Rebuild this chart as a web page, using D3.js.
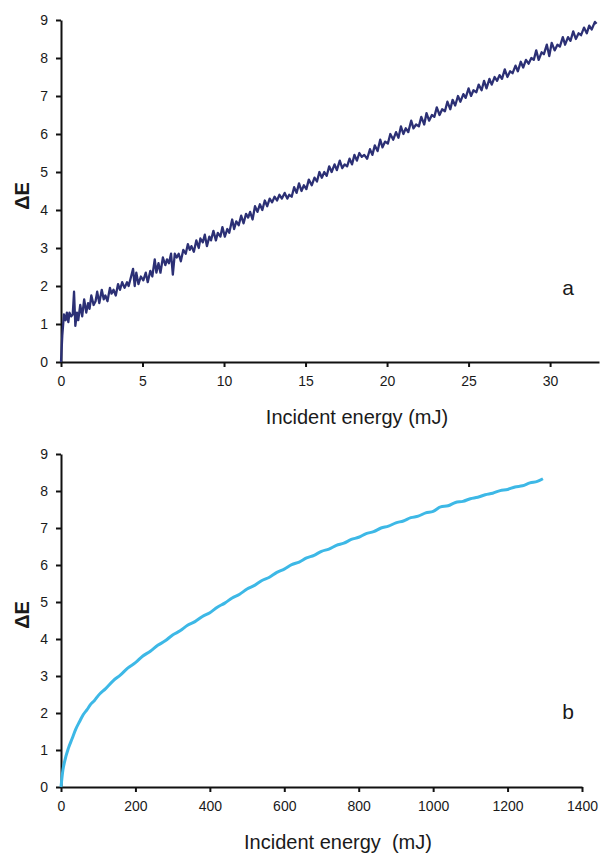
<!DOCTYPE html>
<html>
<head>
<meta charset="utf-8">
<script src="https://cdn.jsdelivr.net/npm/d3@7"></script>
<style>
  body { margin: 0; background: #fff; }
  text { font-family: "Liberation Sans", Arial, sans-serif; fill: #1a1a1a; }
  .domain { stroke: #111; stroke-width: 2px; }
  .tick line { stroke: #111; stroke-width: 2px; }
</style>
</head>
<body>
<svg id="chart"></svg>
<script>
var w = 601, h = 857;

// panel a : [incident energy (mJ), delta E]
var pointsA = [[0,0],[0.08,0.7],[0.18,1.25],[0.28,1.1],[0.36,1.3],[0.45,1.05],[0.52,1.3],[0.62,1.2],[0.72,1.25],[0.8,1.85],[0.88,0.95],[0.98,1.3],[1.06,1.1],[1.18,1.5],[1.3,1.2],[1.42,1.65],[1.55,1.3],[1.66,1.55],[1.75,1.4],[1.86,1.75],[2.0,1.5],[2.12,1.6],[2.22,1.85],[2.35,1.55],[2.5,1.9],[2.62,1.65],[2.72,1.75],[2.85,1.6],[3.0,1.95],[3.1,1.8],[3.22,1.9],[3.36,1.75],[3.5,2.05],[3.62,1.9],[3.75,2.1],[3.9,1.95],[4.05,2.1],[4.15,2.0],[4.3,2.25],[4.42,2.45],[4.52,2.0],[4.62,2.35],[4.75,2.05],[4.9,2.25],[5.05,2.15],[5.2,2.35],[5.32,2.1],[5.48,2.4],[5.6,2.25],[5.75,2.7],[5.85,2.35],[5.98,2.6],[6.1,2.35],[6.25,2.75],[6.4,2.55],[6.5,2.7],[6.62,2.6],[6.75,2.85],[6.86,2.3],[6.98,2.85],[7.1,2.75],[7.22,2.85],[7.35,2.65],[7.5,2.95],[7.65,2.85],[7.78,3.1],[7.9,2.95],[8.0,3.05],[8.15,2.9],[8.3,3.2],[8.45,3.0],[8.55,3.25],[8.7,3.15],[8.82,3.35],[8.95,3.05],[9.1,3.3],[9.2,3.2],[9.35,3.45],[9.5,3.2],[9.62,3.4],[9.78,3.3],[9.9,3.55],[10.05,3.3],[10.2,3.5],[10.32,3.4],[10.5,3.75],[10.62,3.5],[10.75,3.7],[10.9,3.6],[11.05,3.85],[11.2,3.65],[11.35,3.9],[11.48,3.8],[11.6,3.95],[11.75,3.75],[11.9,4.1],[12.05,3.95],[12.2,4.15],[12.35,4.0],[12.5,4.25],[12.65,4.1],[12.8,4.3],[12.95,4.2],[13.1,4.35],[13.25,4.25],[13.4,4.4],[13.55,4.3],[13.72,4.45],[13.88,4.3],[14.0,4.4],[14.15,4.35],[14.3,4.6],[14.45,4.45],[14.6,4.7],[14.75,4.5],[14.9,4.65],[15.05,4.55],[15.2,4.8],[15.38,4.65],[15.55,4.85],[15.7,4.75],[15.85,5.0],[16.0,4.85],[16.15,5.0],[16.3,4.9],[16.45,5.15],[16.6,5.0],[16.78,5.2],[16.92,5.05],[17.1,5.3],[17.25,5.1],[17.4,5.2],[17.55,5.15],[17.7,5.35],[17.85,5.2],[18.0,5.45],[18.15,5.3],[18.3,5.5],[18.45,5.4],[18.6,5.45],[18.78,5.35],[18.95,5.6],[19.1,5.45],[19.25,5.7],[19.42,5.55],[19.58,5.85],[19.72,5.65],[19.88,5.8],[20.05,5.75],[20.2,6.0],[20.38,5.85],[20.55,6.05],[20.7,5.9],[20.85,6.2],[21.0,6.0],[21.15,6.15],[21.3,6.05],[21.48,6.35],[21.62,6.15],[21.78,6.25],[21.95,6.2],[22.1,6.45],[22.28,6.25],[22.42,6.55],[22.58,6.35],[22.75,6.5],[22.9,6.45],[23.05,6.7],[23.22,6.5],[23.38,6.65],[23.55,6.6],[23.7,6.85],[23.88,6.65],[24.02,6.9],[24.18,6.75],[24.35,7.0],[24.5,6.85],[24.68,7.05],[24.82,6.95],[25.0,7.2],[25.15,7.0],[25.3,7.15],[25.48,7.1],[25.62,7.3],[25.8,7.15],[25.95,7.4],[26.1,7.2],[26.28,7.45],[26.42,7.3],[26.6,7.5],[26.75,7.4],[26.9,7.55],[27.05,7.45],[27.22,7.7],[27.38,7.5],[27.55,7.65],[27.7,7.6],[27.88,7.8],[28.02,7.65],[28.2,7.9],[28.35,7.75],[28.52,7.95],[28.68,7.85],[28.85,8.0],[29.0,7.95],[29.15,8.2],[29.3,7.95],[29.48,8.15],[29.62,8.1],[29.8,8.35],[29.95,8.05],[30.1,8.4],[30.28,8.2],[30.45,8.35],[30.6,8.3],[30.78,8.55],[30.92,8.35],[31.1,8.55],[31.25,8.45],[31.42,8.7],[31.58,8.5],[31.75,8.65],[31.9,8.6],[32.08,8.8],[32.25,8.65],[32.4,8.85],[32.55,8.75],[32.75,8.95],[32.85,8.9]];
var xTicksA = [0,5,10,15,20,25,30];

// panel b
var energyB = [0,5,10,20,30,40,50,60,70,80,90,100,120,140,160,180,200,220,240,260,280,300,320,340,360,380,400,420,440,460,480,500,520,540,560,580,600,620,640,660,680,700,720,740,760,780,800,820,840,860,880,900,920,940,960,980,1000,1020,1040,1060,1080,1100,1120,1140,1160,1180,1200,1220,1240,1260,1280,1295];
var deltaB = [0,0.45,0.7,1.05,1.31,1.57,1.77,1.96,2.09,2.24,2.34,2.47,2.66,2.87,3.03,3.22,3.36,3.54,3.67,3.83,3.95,4.11,4.22,4.37,4.47,4.61,4.71,4.86,4.97,5.11,5.21,5.35,5.45,5.58,5.67,5.8,5.89,6.01,6.08,6.19,6.26,6.37,6.43,6.53,6.59,6.69,6.75,6.85,6.9,7.0,7.05,7.14,7.19,7.28,7.32,7.41,7.45,7.57,7.6,7.69,7.72,7.79,7.83,7.9,7.94,8.01,8.04,8.11,8.14,8.22,8.26,8.33];
var xTicksB = [0,200,400,600,800,1000,1200,1400];

var yTicks = [0,1,2,3,4,5,6,7,8,9];

var svg = d3.select("#chart").attr("width", w).attr("height", h);

function panel(cfg) {
	var x = d3.scaleLinear().domain(cfg.xDomain).range([61, cfg.xRight]);
	var y = d3.scaleLinear().domain([0, 9]).range([cfg.yBottom, cfg.yTop]);
	var g = svg.append("g");

	g.append("g")
		.attr("transform", "translate(0," + cfg.yBottom + ")")
		.call(d3.axisBottom(x).tickValues(cfg.xTicks).tickFormat(d3.format("d"))
			.tickSize(5).tickPadding(9).tickSizeOuter(0))
		.selectAll("text").style("font-size", "14px");

	g.append("g")
		.attr("transform", "translate(61,0)")
		.call(d3.axisLeft(y).tickValues(yTicks).tickSize(5).tickPadding(8).tickSizeOuter(0))
		.selectAll("text").style("font-size", "14px");

	var line = d3.line()
		.x(function(d) { return x(d[0]); })
		.y(function(d) { return y(d[1]); })
		.curve(cfg.curve);

	g.append("path")
		.datum(cfg.points)
		.attr("d", line)
		.style("fill", "none")
		.style("stroke", cfg.color)
		.style("stroke-width", cfg.width)
		.style("stroke-linejoin", "round");

	g.append("text")
		.attr("x", cfg.titleX).attr("y", cfg.yBottom + 62)
		.attr("text-anchor", "middle")
		.style("font-size", "20px")
		.style("white-space", "pre")
		.text(cfg.title);

	g.append("text")
		.attr("transform", "translate(29," + cfg.labelY + ") rotate(-90)")
		.attr("text-anchor", "middle")
		.style("font-size", "20px")
		.style("font-weight", "bold")
		.text("ΔE");

	g.append("text")
		.attr("x", 568).attr("y", cfg.tagY)
		.attr("text-anchor", "middle")
		.style("font-size", "21px")
		.text(cfg.tag);
}

panel({xDomain: [0, 33], xRight: 599, yBottom: 362, yTop: 20, xTicks: xTicksA,
	points: pointsA, color: "#2c3075", width: 2.3, curve: d3.curveLinear,
	title: "Incident energy (mJ)", titleX: 357, labelY: 196, tag: "a", tagY: 295});

panel({xDomain: [0, 1400], xRight: 582, yBottom: 787, yTop: 454, xTicks: xTicksB,
	points: d3.zip(energyB, deltaB), color: "#3db8e6", width: 3, curve: d3.curveMonotoneX,
	title: "Incident energy  (mJ)", titleX: 338, labelY: 615, tag: "b", tagY: 719});
</script>
</body>
</html>
